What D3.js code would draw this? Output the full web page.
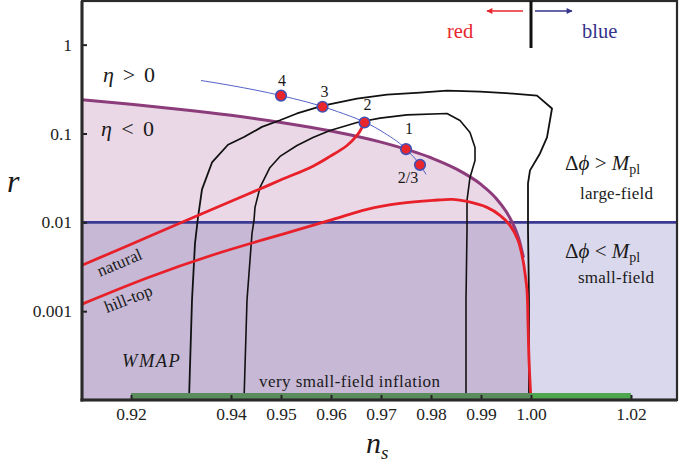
<!DOCTYPE html>
<html><head><meta charset="utf-8">
<script src="https://cdn.jsdelivr.net/npm/d3@7"></script>
<style>
body{margin:0;background:#fff;}
svg{display:block;}
svg text{font-family:"Liberation Serif","DejaVu Serif","Noto Serif",serif;}
</style></head><body>
<svg id="chart" width="682" height="464"></svg>
<script>
// ---------- data ----------
const xTicks = [0.92,0.94,0.95,0.96,0.97,0.98,0.99,1.00,1.02];
const yTicks = [1,0.1,0.01,0.001];
const yTickLabels = ["1","0.1","0.01","0.001"];
const smallFieldR = 0.01;

const eta0Ns = [0.9102,0.92,0.93,0.94,0.95,0.96,0.97,0.98,0.985,0.99,0.993,0.995,0.99625,0.9975,0.9985,0.9992,0.9996,0.99985,0.99996];
const eta0R  = [0.2395,0.2133,0.1867,0.16,0.1333,0.1067,0.08,0.0533,0.04,0.0267,0.0187,0.0133,0.01,0.0067,0.004,0.00213,0.00107,0.0004,0.0001];

const chaoticNs = [0.934,0.94,0.95,0.96,0.97,0.975,0.978,0.979];
const chaoticR  = [0.395,0.347,0.267,0.187,0.107,0.0667,0.0427,0.0347];

const naturalNs = [0.9102,0.9198,0.9302,0.9364,0.9432,0.9498,0.9564,0.9598,0.9632,0.9652,0.9662,0.9666];
const naturalR  = [0.00329,0.0056,0.01,0.0141,0.02057,0.0297,0.0429,0.0552,0.0733,0.095,0.1168,0.133];

const hilltopNs = [0.9102,0.9236,0.9368,0.9502,0.9604,0.9672,0.9738,0.9804,0.9844,0.9872,0.9912,0.9938,0.9958,0.9974,0.9984,0.9988,0.9992,0.9994,0.9996,1.0];
const hilltopR  = [0.0012,0.00241,0.00437,0.00733,0.01081,0.014,0.0163,0.01767,0.01813,0.0172,0.01474,0.012,0.00925,0.00628,0.00374,0.00267,0.00172,0.000733,0.000282,0.0001];

const wmap95Ns = [0.9316,0.9322,0.9328,0.9334,0.9342,0.9362,0.9394,0.9426,0.9462,0.9498,0.9532,0.9584,0.9652,0.9712,0.9778,0.9832,0.9898,0.9964,1.0012,1.0042,1.0032,1.0018,0.9998,0.9994,0.9994,0.9996,0.9996];
const wmap95R  = [0.0001,0.00133,0.0058,0.0114,0.0235,0.0472,0.0747,0.0912,0.1186,0.141,0.168,0.2064,0.247,0.274,0.289,0.304,0.296,0.281,0.267,0.191,0.0902,0.0596,0.0384,0.0274,0.00813,0.00133,0.0001];

const wmap68Ns = [0.9426,0.9432,0.9442,0.9446,0.9448,0.9458,0.9478,0.9498,0.9532,0.9564,0.9598,0.9652,0.9698,0.9752,0.9832,0.9858,0.9878,0.9888,0.9888,0.9878,0.9872,0.9872,0.987,0.987];
const wmap68R  = [0.0001,0.00133,0.0075,0.0105,0.01474,0.0247,0.0415,0.0552,0.0733,0.0902,0.108,0.133,0.149,0.162,0.168,0.14,0.1026,0.0697,0.0497,0.032,0.0177,0.00813,0.00133,0.0001];

const modelLabels = ["4","3","2","1","2/3"];
const modelNs = [0.95,0.9583,0.9667,0.975,0.9778];
const modelR  = [0.267,0.2,0.133,0.0667,0.0444];

const verySmallNs = [0.92,1.00,1.02];
const redArrowNs = [0.9984,0.9912];
const blueArrowNs = [1.0008,1.0082];

// ---------- layout ----------
const L=82, R=677, T=1, B=400;
const svg = d3.select("#chart");
const x = d3.scaleLinear().domain([0.9102,1.0292]).range([L,R]);
const y = d3.scaleLog().domain([1e-4,3.1]).range([B,T]);
const zip = (a,b)=>a.map((v,i)=>[v,b[i]]);

svg.append("defs").html(`
 <clipPath id="plot"><rect x="${L}" y="${T}" width="${R-L}" height="${B-T}"/></clipPath>
 <marker id="ahR" viewBox="0 0 10 10" refX="9" refY="5" markerWidth="8" markerHeight="6" orient="auto" markerUnits="userSpaceOnUse"><path d="M0,0L10,5L0,10z" fill="#e8262c"/></marker>
 <marker id="ahB" viewBox="0 0 10 10" refX="9" refY="5" markerWidth="8" markerHeight="6" orient="auto" markerUnits="userSpaceOnUse"><path d="M0,0L10,5L0,10z" fill="#34348a"/></marker>
`);

const g = svg.append("g").attr("clip-path","url(#plot)");
g.append("rect").attr("x",L).attr("y",T).attr("width",R-L).attr("height",B-T).attr("fill","#fff");
g.append("rect").attr("x",L).attr("y",y(smallFieldR)).attr("width",R-L).attr("height",B-y(smallFieldR)).attr("fill","#dad8ed");

const eta = zip(eta0Ns,eta0R);
g.append("path").datum(eta).attr("fill","#ead8e6")
  .attr("d",d3.area().x(d=>x(d[0])).y0(y(smallFieldR)).y1(d=>y(Math.max(d[1],smallFieldR))).curve(d3.curveMonotoneX));
g.append("path").datum(eta).attr("fill","#c7b9d6")
  .attr("d",d3.area().x(d=>x(d[0])).y0(B).y1(d=>y(Math.min(d[1],smallFieldR))).curve(d3.curveMonotoneX));

g.append("line").attr("x1",L).attr("x2",R).attr("y1",y(smallFieldR)).attr("y2",y(smallFieldR))
  .attr("stroke","#3a3a92").attr("stroke-width",2.6);

g.append("path").datum(eta.filter(d=>d[1]>=0.003)).attr("fill","none").attr("stroke","#8c3b7b").attr("stroke-width",3)
  .attr("d",d3.line().x(d=>x(d[0])).y(d=>y(d[1])).curve(d3.curveMonotoneX));

const cline = d3.line().x(d=>x(d[0])).y(d=>y(d[1])).curve(d3.curveLinear);
g.append("path").datum(zip(wmap95Ns,wmap95R)).attr("fill","none").attr("stroke","#111").attr("stroke-width",1.8).attr("stroke-linejoin","round").attr("d",cline);
g.append("path").datum(zip(wmap68Ns,wmap68R)).attr("fill","none").attr("stroke","#111").attr("stroke-width",1.6).attr("stroke-linejoin","round").attr("d",cline);

const rline = d3.line().x(d=>x(d[0])).y(d=>y(d[1])).curve(d3.curveCatmullRom.alpha(0.5));
g.append("path").datum(zip(naturalNs,naturalR)).attr("fill","none").attr("stroke","#e8202a").attr("stroke-width",2.8).attr("d",rline);
g.append("path").datum(zip(hilltopNs,hilltopR)).attr("fill","none").attr("stroke","#e8202a").attr("stroke-width",2.8).attr("d",rline);

g.append("path").datum(zip(chaoticNs,chaoticR)).attr("fill","none").attr("stroke","#5563c8").attr("stroke-width",1)
  .attr("d",d3.line().x(d=>x(d[0])).y(d=>y(d[1])).curve(d3.curveMonotoneX));
g.selectAll("circle.m").data(modelNs.map((v,i)=>({ns:v,r:modelR[i]}))).join("circle")
  .attr("class","m").attr("cx",d=>x(d.ns)).attr("cy",d=>y(d.r)).attr("r",5.3)
  .attr("fill","#e8262c").attr("stroke","#4050b4").attr("stroke-width",1.6);

const segs = [{a:verySmallNs[0],b:verySmallNs[1],c:"#5b8c5e"},{a:verySmallNs[1],b:verySmallNs[2],c:"#4ea64e"}];
svg.selectAll("rect.vs").data(segs).join("rect").attr("class","vs")
  .attr("x",d=>x(d.a)).attr("width",d=>x(d.b)-x(d.a)).attr("y",B-7).attr("height",7).attr("fill",d=>d.c);

const xa = svg.append("g").attr("transform",`translate(0,${B})`)
  .call(d3.axisBottom(x).tickValues(xTicks).tickSize(-5).tickPadding(8).tickFormat(d3.format(".2f")));
const ya = svg.append("g").attr("transform",`translate(${L},0)`)
  .call(d3.axisLeft(y).tickValues(yTicks).tickSize(-5).tickPadding(10).tickFormat((d,i)=>yTickLabels[i]));
[xa,ya].forEach(a=>{
  a.attr("font-family",null);
  a.select(".domain").remove();
  a.selectAll(".tick line").attr("stroke","#222").attr("stroke-width",2);
  a.selectAll(".tick text").attr("font-size",17.5).attr("fill","#222");
});

svg.append("rect").attr("x",L).attr("y",T).attr("width",R-L).attr("height",B-T).attr("fill","none").attr("stroke","#2a2a2a").attr("stroke-width",2.2);
svg.append("line").attr("x1",L).attr("x2",L).attr("y1",T).attr("y2",B+1.5).attr("stroke","#2a2a2a").attr("stroke-width",3);
svg.append("line").attr("x1",L-1.5).attr("x2",R).attr("y1",B).attr("y2",B).attr("stroke","#2a2a2a").attr("stroke-width",3);

svg.append("line").attr("x1",x(1.0)).attr("x2",x(1.0)).attr("y1",T).attr("y2",48).attr("stroke","#111").attr("stroke-width",3);
svg.append("line").attr("x1",x(redArrowNs[0])).attr("x2",x(redArrowNs[1])).attr("y1",11).attr("y2",11)
  .attr("stroke","#e8262c").attr("stroke-width",1.3).attr("marker-end","url(#ahR)");
svg.append("line").attr("x1",x(blueArrowNs[0])).attr("x2",x(blueArrowNs[1])).attr("y1",11).attr("y2",11)
  .attr("stroke","#34348a").attr("stroke-width",1.3).attr("marker-end","url(#ahB)");

const txt = (xx,yy,size,content,opts={})=>{
  const t = svg.append("text").attr("x",xx).attr("y",yy).attr("font-size",size).attr("fill",opts.fill||"#1a1a1a");
  if(opts.anchor) t.attr("text-anchor",opts.anchor);
  if(opts.italic) t.attr("font-style","italic");
  if(opts.rotate!==undefined) t.attr("transform",`rotate(${opts.rotate},${xx},${yy})`);
  if(opts.ls) t.attr("letter-spacing",opts.ls);
  if(opts.len) t.attr("textLength",opts.len).attr("lengthAdjust","spacing");
  t.html(content);
  return t;
};

txt(447,38,20.5,"red",{fill:"#e8262c"});
txt(582,38,20.5,"blue",{fill:"#34348a"});

txt(103,82,22,'<tspan font-style="italic">η</tspan> &gt; 0',{len:52});
txt(101,136,22,'<tspan font-style="italic">η</tspan> &lt; 0',{len:53});

txt(565,170,21,'Δ<tspan font-style="italic">ϕ</tspan> &gt; <tspan font-style="italic">M</tspan><tspan font-size="14" dy="4">pl</tspan>');
txt(580,199,17,"large-field",{len:73});
txt(565,258,21,'Δ<tspan font-style="italic">ϕ</tspan> &lt; <tspan font-style="italic">M</tspan><tspan font-size="14" dy="4">pl</tspan>');
txt(578,283,17,"small-field",{len:76});

txt(100,277,17,"natural",{rotate:-23});
txt(107,313,17,"hill-top",{rotate:-21});
txt(122,367,18.5,"WMAP",{italic:true,ls:1.5});
txt(259,387,17,"very small-field inflation",{len:181});

const labOff = [[1,-10],[2,-10],[3,-12],[3,-15],[-12,18]];
modelNs.forEach((v,i)=>{
  txt(x(v)+labOff[i][0],y(modelR[i])+labOff[i][1],16,modelLabels[i],{anchor:"middle"});
});

txt(7,192,32,"r",{italic:true});
txt(366,453,30,'<tspan font-style="italic">n</tspan><tspan font-style="italic" font-size="19" dy="6">s</tspan>');
</script>
</body></html>
